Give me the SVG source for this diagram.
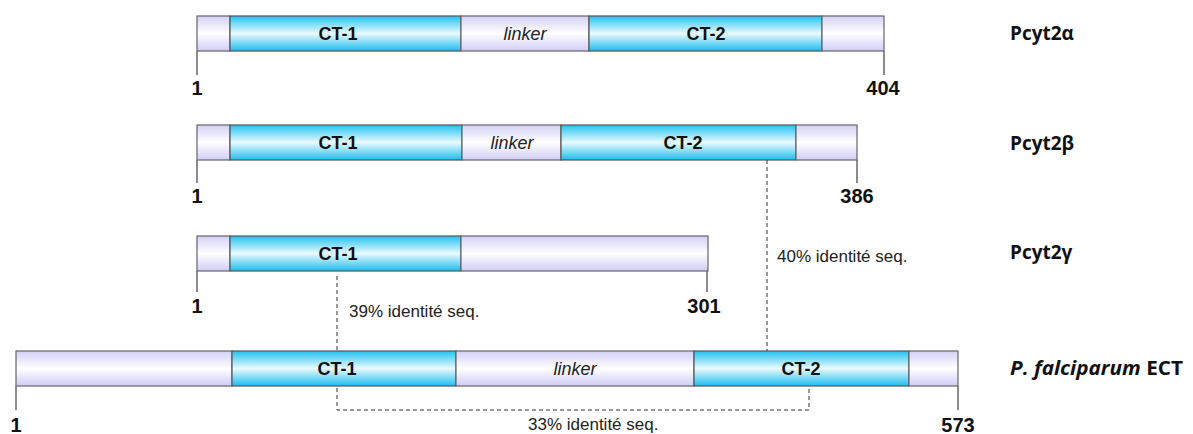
<svg xmlns="http://www.w3.org/2000/svg" width="1193" height="434" viewBox="0 0 1193 434">
<defs>
<linearGradient id="gl" x1="0" y1="0" x2="0" y2="1">
<stop offset="0" stop-color="#d4d0f6"/>
<stop offset="0.5" stop-color="#ffffff"/>
<stop offset="1" stop-color="#d0ccf6"/>
</linearGradient>
<linearGradient id="gc" x1="0" y1="0" x2="0" y2="1">
<stop offset="0" stop-color="#22c2f0"/>
<stop offset="0.5" stop-color="#eafaff"/>
<stop offset="1" stop-color="#1cbdee"/>
</linearGradient>
</defs>
<style>
.l{fill:url(#gl);stroke:#666;stroke-width:1.2}
.c{fill:url(#gc);stroke:#555;stroke-width:1.2}
.tick{stroke:#666;stroke-width:1.5}
.dash{stroke:#333;stroke-width:1;stroke-dasharray:4,3;fill:none}
.dom{font-family:"Liberation Sans",Arial,sans-serif;font-weight:bold;font-size:18px;text-anchor:middle;fill:#111}
.lk{font-family:"Liberation Sans",Arial,sans-serif;font-style:italic;font-size:18px;text-anchor:middle;fill:#222}
.num{font-family:"Liberation Sans",Arial,sans-serif;font-weight:bold;font-size:20px;text-anchor:middle;fill:#111}
.id{font-family:"Liberation Sans",Arial,sans-serif;font-size:17px;fill:#222}
.nm{font-family:"Open Sans","Noto Sans",sans-serif;font-weight:bold;font-size:19px;fill:#111}
</style>
<g id="pcyt2a">
<rect class="l" x="197" y="16" width="33" height="35"/>
<rect class="c" x="230" y="16" width="231" height="35"/>
<rect class="l" x="461" y="16" width="128" height="35"/>
<rect class="c" x="589" y="16" width="233" height="35"/>
<rect class="l" x="822" y="16" width="62" height="35"/>
<text class="dom" x="338" y="40">CT-1</text>
<text class="lk" x="525" y="40">linker</text>
<text class="dom" x="706" y="40">CT-2</text>
<line class="tick" x1="197" y1="51" x2="197" y2="75"/>
<line class="tick" x1="884" y1="51" x2="884" y2="75"/>
<text class="num" x="197" y="95">1</text>
<text class="num" x="883" y="95">404</text>
<text class="nm" x="1010" y="40">Pcyt2α</text>
</g>
<g id="pcyt2b">
<rect class="l" x="197" y="125" width="33" height="35"/>
<rect class="c" x="230" y="125" width="232" height="35"/>
<rect class="l" x="462" y="125" width="99" height="35"/>
<rect class="c" x="561" y="125" width="235" height="35"/>
<rect class="l" x="796" y="125" width="61" height="35"/>
<text class="dom" x="338" y="149">CT-1</text>
<text class="lk" x="512" y="149">linker</text>
<text class="dom" x="683" y="149">CT-2</text>
<line class="tick" x1="197" y1="160" x2="197" y2="183"/>
<line class="tick" x1="857" y1="160" x2="857" y2="183"/>
<text class="num" x="197" y="203">1</text>
<text class="num" x="857" y="203">386</text>
<text class="nm" x="1010" y="150">Pcyt2β</text>
</g>
<g id="pcyt2g">
<rect class="l" x="197" y="236" width="33" height="35"/>
<rect class="c" x="230" y="236" width="231" height="35"/>
<rect class="l" x="461" y="236" width="247" height="35"/>
<text class="dom" x="338" y="260">CT-1</text>
<line class="tick" x1="197" y1="271" x2="197" y2="292"/>
<line class="tick" x1="707" y1="271" x2="707" y2="292"/>
<text class="num" x="197" y="313">1</text>
<text class="num" x="704" y="313">301</text>
<text class="nm" x="1010" y="259">Pcyt2γ</text>
</g>
<g id="pfect">
<rect class="l" x="16" y="351" width="216" height="35"/>
<rect class="c" x="232" y="351" width="224" height="35"/>
<rect class="l" x="456" y="351" width="238" height="35"/>
<rect class="c" x="694" y="351" width="215" height="35"/>
<rect class="l" x="909" y="351" width="49" height="35"/>
<text class="dom" x="337" y="375">CT-1</text>
<text class="lk" x="575" y="375">linker</text>
<text class="dom" x="801" y="375">CT-2</text>
<line class="tick" x1="16" y1="386" x2="16" y2="410"/>
<line class="tick" x1="958" y1="386" x2="958" y2="410"/>
<text class="num" x="16" y="432">1</text>
<text class="num" x="958" y="432">573</text>
<text class="nm" x="1010" y="375" textLength="173" lengthAdjust="spacingAndGlyphs"><tspan font-style="italic">P. falciparum</tspan> ECT</text>
</g>
<g id="connectors">
<path class="dash" d="M337 276 V351"/>
<path class="dash" d="M767 160 V351"/>
<path class="dash" d="M337 388 V410 H809 V388"/>
<text class="id" x="349" y="317">39% identité seq.</text>
<text class="id" x="777" y="262">40% identité seq.</text>
<text class="id" x="528" y="430">33% identité seq.</text>
</g>
</svg>
